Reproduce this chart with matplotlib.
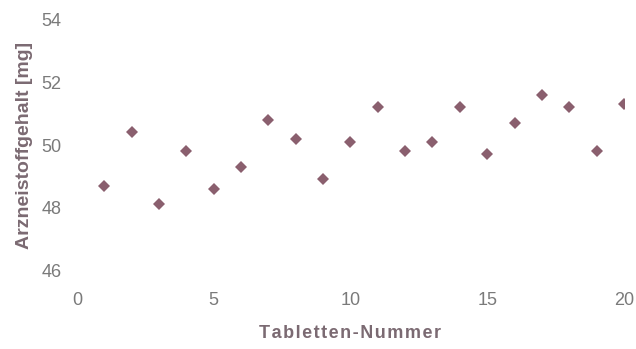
import matplotlib
matplotlib.use("Agg")
import matplotlib.pyplot as plt

plt.rcParams.update({
    "font.family": ["Liberation Sans", "DejaVu Sans"],
})

# Tablet number vs. active ingredient content
tablet_nr = list(range(1, 21))
content_mg = [48.7, 50.4, 48.1, 49.8, 48.6, 49.3, 50.8, 50.2, 48.9, 50.1,
              51.2, 49.8, 50.1, 51.2, 49.7, 50.7, 51.6, 51.2, 49.8, 51.3]

x_ticks = [0, 5, 10, 15, 20]
y_ticks = [46, 48, 50, 52, 54]

marker_color = "#8a5f6e"
tick_color = "#7a7a7a"
label_color = "#7b6a72"

fig = plt.figure(figsize=(6.36, 3.49), dpi=100)
ax = fig.add_axes([0.121, 0.226, 0.860, 0.717])

ax.plot(tablet_nr, content_mg, linestyle="none", marker="D",
        markersize=5.8, color=marker_color, markeredgewidth=0)

ax.set_xlim(0, 20)
ax.set_ylim(46, 54)
ax.set_xticks(x_ticks)
ax.set_yticks(y_ticks)

for s in ax.spines.values():
    s.set_visible(False)

ax.tick_params(axis="x", length=0, pad=16, labelsize=13, labelcolor=tick_color)
ax.tick_params(axis="y", length=0, pad=11, labelsize=13, labelcolor=tick_color)

# slightly letter-spaced x label, as in the original
xlabel = "\u200a".join("Tabletten-Nummer")
ax.set_xlabel(xlabel, fontsize=13, fontweight="bold",
              color=label_color, labelpad=11)
ax.set_ylabel("Arzneistoffgehalt [mg]", fontsize=14, fontweight="bold",
              color=label_color, labelpad=6)

fig.savefig("out.png", dpi=100)
plt.close(fig)
